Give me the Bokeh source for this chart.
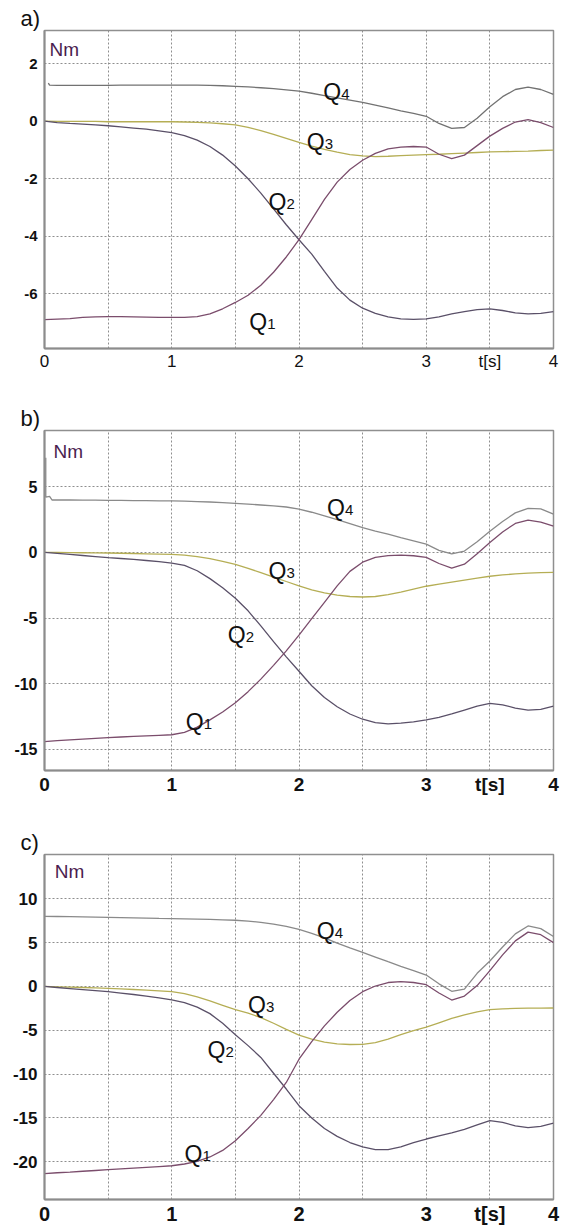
from bokeh.plotting import figure
from bokeh.layouts import column
from bokeh.models import FixedTicker, Range1d
from bokeh.core.properties import value
from bokeh.embed import file_html
from bokeh.resources import INLINE

# sample times [s]
T = [round(0.1 * i, 1) for i in range(41)]

# ---- panel a) torques [Nm] ----
A_Q1 = [-6.90, -6.88, -6.86, -6.82, -6.80, -6.79, -6.79, -6.80, -6.81, -6.82, -6.82,
        -6.82, -6.79, -6.70, -6.52, -6.30, -6.05, -5.70, -5.25, -4.72, -4.12,
        -3.42, -2.72, -2.12, -1.68, -1.36, -1.12, -0.96, -0.90, -0.88, -0.90,
        -1.15, -1.30, -1.18, -0.85, -0.52, -0.25, -0.03, 0.05, -0.05, -0.22]
A_Q2 = [0.00, -0.05, -0.08, -0.10, -0.13, -0.16, -0.20, -0.24, -0.28, -0.34, -0.40,
        -0.50, -0.66, -0.88, -1.18, -1.56, -2.00, -2.50, -3.05, -3.60, -4.12,
        -4.62, -5.22, -5.80, -6.22, -6.50, -6.68, -6.80, -6.87, -6.89, -6.87,
        -6.80, -6.70, -6.62, -6.55, -6.52, -6.58, -6.66, -6.70, -6.68, -6.62]
A_Q3 = [0.00, -0.01, -0.01, -0.01, -0.01, -0.02, -0.02, -0.02, -0.02, -0.02, -0.02,
        -0.03, -0.04, -0.06, -0.09, -0.13, -0.22, -0.33, -0.46, -0.60, -0.74,
        -0.87, -0.98, -1.08, -1.16, -1.21, -1.23, -1.22, -1.20, -1.18, -1.16,
        -1.15, -1.13, -1.11, -1.09, -1.07, -1.06, -1.05, -1.04, -1.02, -1.01]
A_Q4_T = [0.03, 0.04] + T[1:]
A_Q4 = [1.32, 1.25,
        1.24, 1.24, 1.24, 1.24, 1.24, 1.25, 1.25, 1.25, 1.25, 1.25,
        1.25, 1.25, 1.24, 1.23, 1.21, 1.19, 1.16, 1.13, 1.09, 1.04,
        0.97, 0.89, 0.81, 0.73, 0.65, 0.56, 0.46, 0.36, 0.27, 0.17,
        -0.08, -0.25, -0.22, 0.10, 0.50, 0.85, 1.10, 1.18, 1.10, 0.93]
A_YTICKS = [-6, -4, -2, 0, 2]

# ---- panel b) torques [Nm] ----
B_Q1 = [-14.40, -14.33, -14.27, -14.21, -14.15, -14.10, -14.05, -14.00, -13.96, -13.92, -13.88,
        -13.70, -13.30, -12.75, -12.15, -11.45, -10.60, -9.65, -8.60, -7.50, -6.30,
        -5.05, -3.80, -2.55, -1.45, -0.75, -0.38, -0.25, -0.22, -0.26, -0.38,
        -0.85, -1.20, -0.90, -0.10, 0.75, 1.55, 2.20, 2.45, 2.30, 2.00]
B_Q2 = [0.00, -0.08, -0.16, -0.24, -0.32, -0.40, -0.47, -0.54, -0.62, -0.71, -0.82,
        -1.00, -1.40, -2.00, -2.70, -3.50, -4.45, -5.60, -6.80, -7.95, -9.05,
        -10.15, -11.05, -11.75, -12.30, -12.70, -12.95, -13.05, -13.00, -12.90, -12.75,
        -12.55, -12.30, -12.00, -11.70, -11.50, -11.60, -11.85, -12.00, -11.95, -11.70]
B_Q3 = [0.00, -0.01, -0.02, -0.03, -0.04, -0.05, -0.07, -0.09, -0.11, -0.13, -0.16,
        -0.22, -0.32, -0.48, -0.68, -0.92, -1.22, -1.55, -1.88, -2.22, -2.55,
        -2.85, -3.08, -3.25, -3.36, -3.40, -3.36, -3.22, -3.02, -2.80, -2.58,
        -2.42, -2.27, -2.12, -1.97, -1.82, -1.72, -1.64, -1.58, -1.55, -1.53]
B_Q4_T = [0.01, 0.01, 0.04, 0.06] + T[1:]
B_Q4 = [7.20, 4.20, 4.25, 3.98,
        3.98, 3.98, 3.97, 3.97, 3.96, 3.95, 3.94, 3.93, 3.92, 3.91,
        3.89, 3.86, 3.83, 3.78, 3.73, 3.67, 3.60, 3.53, 3.45, 3.28,
        3.05, 2.78, 2.48, 2.18, 1.88, 1.62, 1.38, 1.12, 0.88, 0.62,
        0.15, -0.12, 0.10, 0.80, 1.60, 2.35, 3.00, 3.35, 3.30, 2.90]
B_YTICKS = [-15, -10, -5, 0, 5]

# ---- panel c) torques [Nm] ----
C_Q1 = [-21.35, -21.25, -21.17, -21.08, -20.99, -20.90, -20.81, -20.72, -20.63, -20.54, -20.45,
        -20.25, -19.95, -19.45, -18.70, -17.60, -16.20, -14.70, -12.90, -10.95, -8.30,
        -6.30, -4.50, -2.95, -1.60, -0.60, 0.05, 0.45, 0.55, 0.45, 0.20,
        -0.75, -1.55, -1.10, 0.10, 1.80, 3.60, 5.20, 6.20, 5.90, 5.00]
C_Q2 = [0.00, -0.12, -0.24, -0.36, -0.48, -0.60, -0.75, -0.92, -1.10, -1.30, -1.53,
        -1.85, -2.35, -3.10, -4.20, -5.50, -6.75, -8.10, -9.90, -11.70, -13.60,
        -15.00, -16.20, -17.10, -17.80, -18.30, -18.60, -18.60, -18.30, -17.80, -17.40,
        -17.05, -16.70, -16.30, -15.80, -15.30, -15.50, -15.90, -16.10, -15.95, -15.60]
C_Q3 = [0.00, -0.04, -0.08, -0.12, -0.17, -0.22, -0.28, -0.35, -0.43, -0.51, -0.60,
        -0.82, -1.20, -1.65, -2.15, -2.65, -3.05, -3.55, -4.20, -4.90, -5.55,
        -6.00, -6.35, -6.55, -6.62, -6.60, -6.40, -6.00, -5.50, -5.05, -4.65,
        -4.15, -3.65, -3.25, -2.90, -2.65, -2.55, -2.50, -2.48, -2.47, -2.46]
C_Q4_T = T
C_Q4 = [8.00, 7.98, 7.96, 7.94, 7.91, 7.88, 7.85, 7.82, 7.79, 7.76, 7.74,
        7.71, 7.68, 7.64, 7.60, 7.55, 7.45, 7.32, 7.12, 6.86, 6.50,
        6.05, 5.55, 4.95, 4.40, 3.88, 3.35, 2.82, 2.30, 1.80, 1.30,
        0.30, -0.55, -0.30, 1.50, 2.90, 4.50, 6.00, 6.90, 6.60, 5.70]
C_YTICKS = [-20, -15, -10, -5, 0, 5, 10]

X_TICKS = [0, 1, 2, 3, 3.5, 4]
X_MINOR = [0.5, 1.5, 2.5]
X_LABELS = {0: "0", 1: "1", 2: "2", 3: "3", 3.5: "t[s]", 4: "4"}

FONT = "Liberation Sans"
COLORS = {"Q1": "#7b4d6c", "Q2": "#5a5068", "Q3": "#b5ae55", "Q4": "#8a8a8a"}
GRID = "#8e8e8e"


def panel(tag, q1, q2, q3, q4_t, q4, y_range, y_ticks, spots, nm_xy,
          height, borders, yfont, xfont, xstyle, q4_color):
    left, right, top, bottom = borders
    p = figure(width=570, height=height, x_range=Range1d(0, 4),
               y_range=Range1d(*y_range), output_backend="svg",
               toolbar_location=None, min_border_left=left,
               min_border_right=right, min_border_top=top,
               min_border_bottom=bottom, title=tag)
    p.background_fill_color = "white"
    p.border_fill_color = "white"
    p.outline_line_color = "#8f8f8f"
    p.outline_line_width = 1.5

    p.title.align = "left"
    p.title.offset = -24
    p.title.standoff = 0
    p.title.text_font = FONT
    p.title.text_font_size = "22px"
    p.title.text_font_style = "normal"
    p.title.text_color = "#111111"

    p.xaxis.ticker = FixedTicker(ticks=X_TICKS, minor_ticks=X_MINOR)
    p.xaxis.major_label_overrides = X_LABELS
    p.yaxis.ticker = FixedTicker(ticks=y_ticks)
    p.yaxis.major_label_overrides = {v: str(v) for v in y_ticks}
    for ax in (p.xaxis[0], p.yaxis[0]):
        ax.axis_line_color = "#8c8c8c"
        ax.axis_line_width = 2
        ax.major_tick_line_color = None
        ax.minor_tick_line_color = None
        ax.major_tick_out = 0
        ax.major_tick_in = 0
        ax.minor_tick_out = 0
        ax.minor_tick_in = 0
        ax.major_label_text_font = FONT
        ax.major_label_text_color = "#111111"
    p.yaxis.major_label_text_font_size = yfont
    p.yaxis.major_label_text_font_style = "bold"
    p.yaxis.major_label_standoff = 7
    p.xaxis.major_label_text_font_size = xfont
    p.xaxis.major_label_text_font_style = xstyle
    p.xaxis.major_label_standoff = 3

    for g in (p.xgrid[0], p.ygrid[0]):
        g.grid_line_color = GRID
        g.grid_line_dash = "2 2"
        g.grid_line_width = 1
    p.xgrid.minor_grid_line_color = GRID
    p.xgrid.minor_grid_line_dash = "2 2"

    p.line(T, q3, line_color=COLORS["Q3"], line_width=1.3)
    p.line(T, q2, line_color=COLORS["Q2"], line_width=1.3)
    p.line(q4_t, q4, line_color=q4_color, line_width=1.3)
    p.line(T, q1, line_color=COLORS["Q1"], line_width=1.3)

    names = ["Q1", "Q2", "Q3", "Q4"]
    xs = [s[0] for s in spots]
    ys = [s[1] for s in spots]
    p.text(xs, ys, text=["Q"] * 4, text_font=value(FONT), text_font_size="23px",
           text_color="#111111", text_baseline="alphabetic", text_align="left")
    p.text(xs, ys, text=[n[1] for n in names], text_font=value(FONT),
           text_font_size="15px", text_color="#111111", x_offset=18, y_offset=2,
           text_baseline="alphabetic", text_align="left")

    p.text([nm_xy[0]], [nm_xy[1]], text=["Nm"], text_font=value(FONT),
           text_font_size="19px", text_color="#4b1d50", text_baseline="top",
           text_align="left")
    return p


pa = panel("a)", A_Q1, A_Q2, A_Q3, A_Q4_T, A_Q4, (-7.9, 3.15), A_YTICKS,
           [(1.61, -6.97), (1.76, -2.8), (2.06, -0.72), (2.19, 1.03)], (0.04, 2.86),
           385, (42, 17, 30, 37), "15px", "17px", "normal", "#727272")
pb = panel("b)", B_Q1, B_Q2, B_Q3, B_Q4_T, B_Q4, (-16.6, 9.27), B_YTICKS,
           [(1.11, -12.9), (1.44, -6.3), (1.76, -1.45), (2.22, 3.4)], (0.07, 8.5),
           425, (44, 16, 45, 40), "16px", "19px", "bold", COLORS["Q4"])
pc = panel("c)", C_Q1, C_Q2, C_Q3, C_Q4_T, C_Q4, (-24.3, 15.05), C_YTICKS,
           [(1.10, -19.1), (1.28, -7.3), (1.60, -2.1), (2.14, 6.3)], (0.08, 14.3),
           417, (43, 12, 44, 23), "17px", "20px", "bold", COLORS["Q4"])

layout = column(pa, pb, pc, spacing=0)
open("out.html", "w").write(file_html(layout, INLINE))
